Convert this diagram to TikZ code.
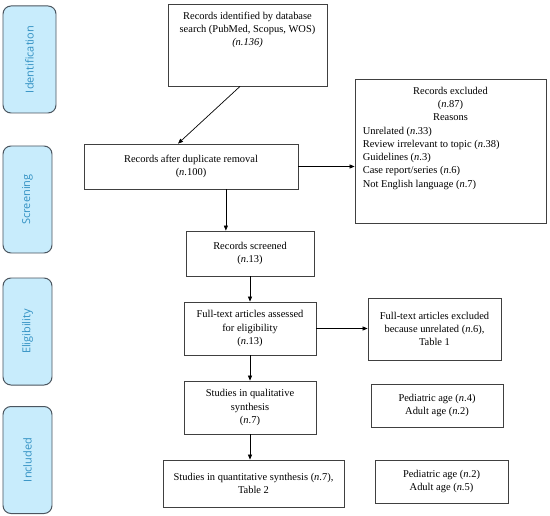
\documentclass[tikz,border=0pt]{standalone}
\usepackage{fontspec}
\setmainfont{Liberation Serif}
\newfontfamily\stagefont{Open Sans}
\usetikzlibrary{arrows.meta, positioning}
\definecolor{stagefill}{RGB}{200,236,252}
\definecolor{stagedraw}{RGB}{75,85,95}
\definecolor{stagetext}{RGB}{50,145,195}
\newcommand{\nn}[1]{(\textit{n}.#1)}

\begin{document}
\begin{tikzpicture}[
  x=1bp, y=-1bp,
  font=\fontsize{10.5}{13.3}\selectfont,
  box/.style={draw=black!75, line width=0.8pt, align=center, inner sep=2pt},
  txt/.style={inner sep=0pt},
  stage/.style={draw=stagedraw, fill=stagefill, line width=1pt,
    rounded corners=8pt, rotate=90, minimum width=107bp, minimum height=49bp,
    text=stagetext, font=\stagefont\fontsize{11}{13}\selectfont},
  arr/.style={->, line width=0.7pt, black},
  >={Triangle[length=5pt, width=4pt]},
]
\useasboundingbox (0,0) rectangle (550,516);

% stages
\node[stage, minimum height=53bp] (sident) at (29.5,59.5) {Identification};
\node[stage] (sscreen) at (27.5,199.5) {Screening};
\node[stage] (selig) at (27.5,331.5) {Eligibility};
\node[stage] (sincl) at (27.5,460) {Included};

% identification
\node[box, minimum width=159bp, minimum height=82bp] (idbox) at (247.5,45) {};
\node[txt, align=center, anchor=north] (idtxt) at ([yshift=-8]idbox.north)
  {Records identified by database\\search (PubMed, Scopus, WOS)\\\textit{(n.136)}};

% screening
\node[box, minimum width=214bp, minimum height=45bp] (dup) at (191,166.5)
  {Records after duplicate removal\\\nn{100}};
\node[box, minimum width=191bp, minimum height=144bp] (excl) at (450.5,151) {};
\node[txt, align=center, anchor=north] (exclhead) at ([yshift=-8]excl.north)
  {Records excluded\\\nn{87}\\Reasons};
\node[txt, align=left, anchor=north west] (excllist) at ([shift={(8,48)}]excl.north west)
  {Unrelated \nn{33}\\Review irrelevant to topic \nn{38}\\Guidelines \nn{3}\\
   Case report/series \nn{6}\\Not English language \nn{7}};
\node[box, minimum width=128bp, minimum height=45bp] (screened) at (250,253.5)
  {Records screened\\\nn{13}};

% eligibility
\node[box, minimum width=132bp, minimum height=53bp] (fulltext) at (250,328.5)
  {Full-text articles assessed\\for eligibility\\\nn{13}};
\node[box, minimum width=133bp, minimum height=62bp] (ftexcl) at (434.5,329)
  {Full-text articles excluded\\because unrelated \nn{6},\\Table 1};

% included
\node[box, minimum width=132bp, minimum height=53bp] (qual) at (250,407.5)
  {Studies in qualitative\\synthesis\\\nn{7}};
\node[box, minimum width=132bp, minimum height=43bp] (ped1) at (437,405.5)
  {Pediatric age \nn{4}\\Adult age \nn{2}};
\node[box, minimum width=181bp, minimum height=47bp] (quant) at (253.5,483.5)
  {Studies in quantitative synthesis \nn{7},\\Table 2};
\node[box, minimum width=133bp, minimum height=43bp] (ped2) at (441.5,481.5)
  {Pediatric age \nn{2}\\Adult age \nn{5}};

% arrows
\draw[arr] ([xshift=-7.5]idbox.south) -- ([xshift=-13]dup.north);
\draw[arr] (dup.east) -- (dup.east -| excl.west);
\coordinate (dupout) at ([xshift=35]dup.south);
\draw[arr] (dupout) -- (dupout |- screened.north);
\draw[arr] (screened) -- (fulltext);
\draw[arr] (fulltext.east) -- (fulltext.east -| ftexcl.west);
\draw[arr] (fulltext) -- (qual);
\draw[arr] (qual.south) -- (qual.south |- quant.north);
\end{tikzpicture}
\end{document}
